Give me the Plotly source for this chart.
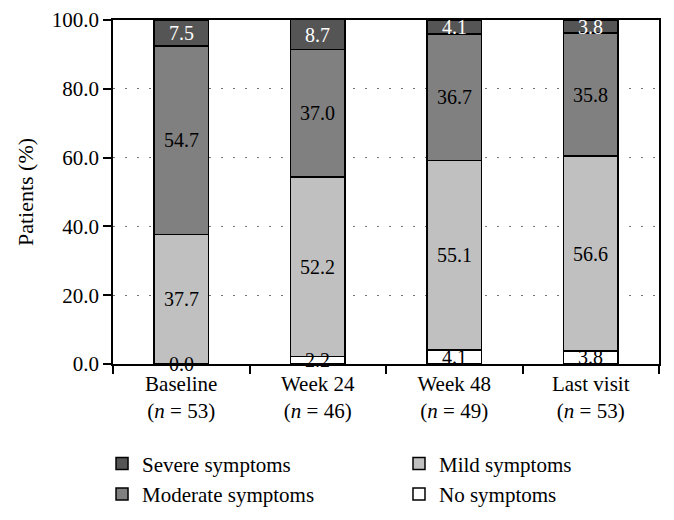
import plotly.graph_objects as go

categories = ["Baseline<br>(<i>n</i> = 53)", "Week 24<br>(<i>n</i> = 46)",
              "Week 48<br>(<i>n</i> = 49)", "Last visit<br>(<i>n</i> = 53)"]
no_symptoms = [0.0, 2.2, 4.1, 3.8]
mild = [37.7, 52.2, 55.1, 56.6]
moderate = [54.7, 37.0, 36.7, 35.8]
severe = [7.5, 8.7, 4.1, 3.8]

series = [
    ("No symptoms", no_symptoms, "#ffffff", "black", "legend2", 2),
    ("Mild symptoms", mild, "#c0c0c0", "black", "legend2", 1),
    ("Moderate symptoms", moderate, "#808080", "black", "legend", 2),
    ("Severe symptoms", severe, "#555555", "white", "legend", 1),
]

FONT = "Liberation Serif"
fig = go.Figure()
base = [0.0] * len(categories)
for name, vals, color, tcolor, lg, rank in series:
    fig.add_trace(go.Bar(
        x=categories, y=vals, name=name, width=0.4,
        marker=dict(color=color, line=dict(color="black", width=1.5)),
        legend=lg, legendrank=rank,
    ))
    for cat, b, v in zip(categories, base, vals):
        fig.add_annotation(
            x=cat, y=b + v / 2, text=f"{v:.1f}", showarrow=False,
            font=dict(family=FONT, size=20, color=tcolor),
            xanchor="center", yanchor="middle",
        )
    base = [b + v for b, v in zip(base, vals)]

legend_common = dict(
    xref="paper", xanchor="left", yref="paper", yanchor="top",
    y=-0.231, font=dict(family=FONT, size=21), tracegroupgap=0,
    bgcolor="rgba(0,0,0,0)", traceorder="normal", orientation="v",
)
# page body has an 8px default margin; figure sized to fit the 674x520 window
fig.update_layout(
    width=666, height=512,
    margin=dict(l=105, r=15, t=12, b=156, autoexpand=False),
    paper_bgcolor="white", plot_bgcolor="white",
    barmode="stack",
    font=dict(family=FONT, size=20, color="black"),
    showlegend=True,
    legend=dict(x=-0.0201, **legend_common),
    legend2=dict(x=0.5238, **legend_common),
)

fig.update_xaxes(
    type="category", range=[-0.5, 3.5], autorange=False, automargin=False,
    tickson="boundaries", ticks="outside", ticklen=8,
    tickcolor="black", tickwidth=1.5, showline=True, linecolor="black",
    linewidth=1.5, mirror=True, showgrid=False, tickangle=0,
    tickfont=dict(family=FONT, size=21),
)
fig.update_yaxes(
    range=[0, 100], autorange=False, automargin=False,
    tickvals=[0, 20, 40, 60, 80, 100], tickformat=".1f",
    ticks="outside", ticklen=8, tickcolor="black", tickwidth=1.5,
    showline=True, linecolor="black", linewidth=1.5, mirror=True,
    showgrid=True, gridcolor="#777777", gridwidth=1, griddash="2px,10px",
    zeroline=False, tickfont=dict(family=FONT, size=21),
    title=dict(text="Patients (%)", font=dict(family=FONT, size=22), standoff=12),
)

fig.write_html("out.html")
